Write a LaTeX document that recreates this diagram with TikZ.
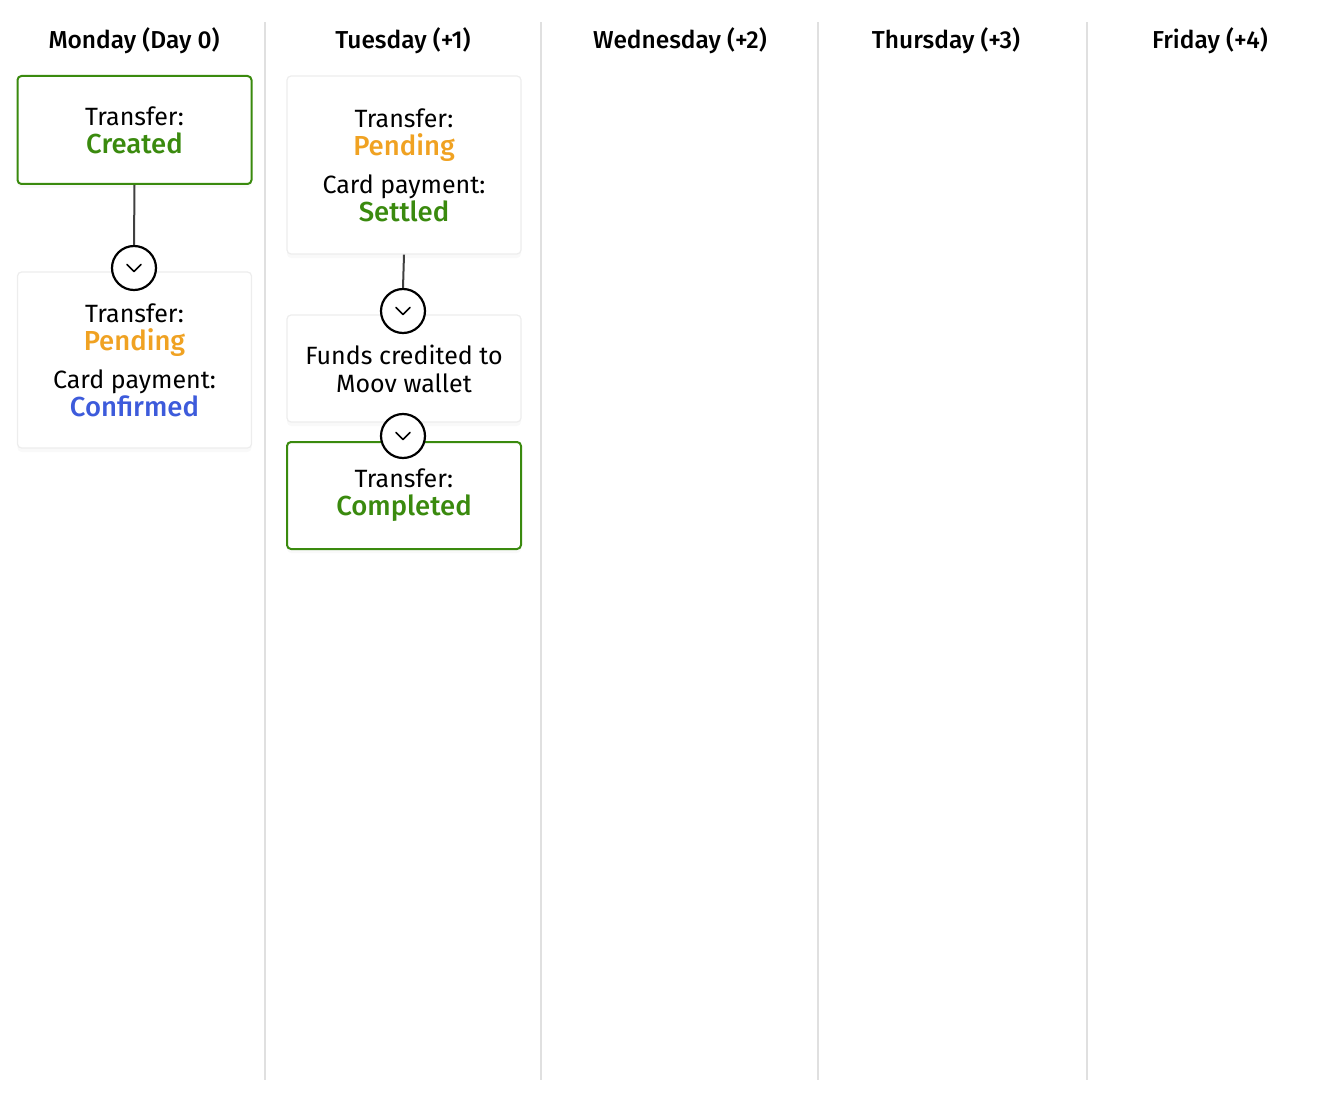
\documentclass[tikz,border=0pt]{standalone}
\usepackage{fontspec}
\setmainfont{Fira Sans}[BoldFont={Fira Sans Medium}]
\usepackage{tikz}
\usetikzlibrary{positioning,shadows}
\definecolor{okgreen}{HTML}{3A8A0E}
\definecolor{waitorange}{HTML}{F0A222}
\definecolor{confblue}{HTML}{3D5BDB}
\tikzset{sep/.style={black!12,line width=2pt},chevron/.style={line width=1.6pt,line cap=round,line join=round}}
\newcommand{\status}[2]{{\fontsize{27.5}{28}\selectfont\bfseries\color{#1}#2}}

\begin{document}
\begin{tikzpicture}[x=1pt, y=-1pt]

\tikzset{card/.style={draw=black!7,line width=1.2pt,rounded corners=4pt,fill=white,minimum width=234pt,align=center,inner sep=0pt,font=\fontsize{25}{28}\selectfont,drop shadow={shadow xshift=0pt,shadow yshift=-4pt,opacity=0.025,fill=black}},
greencard/.style={card,draw=okgreen,line width=2pt},
daytitle/.style={font=\fontsize{24.5}{28}\selectfont\bfseries},
toggle/.style={circle,draw=black,line width=2.2pt,fill=white,minimum size=44pt,inner sep=0pt,
  path picture={\draw[chevron] ([xshift=-7pt,yshift=3.5pt]path picture bounding box.center) -- ++(7pt,-7pt) -- ++(7pt,7pt);}},
link/.style={black!75,line width=2pt}}

\useasboundingbox (0,0) rectangle (1336,1102);

% Columns
\foreach \x in {265,541,818,1087} \draw[sep] (\x,22) -- (\x,1080);
\foreach \x/\t [count=\i] in {134/Monday (Day 0),403/Tuesday (+1),680/Wednesday (+2),946/Thursday (+3),1210/Friday (+4)}
  \node[daytitle] (day\i) at (\x,41) {\t};

% Monday
\node[greencard,minimum height=108pt] (created) at (134.5,130) {Transfer:\\\status{okgreen}{Created}};
\node[card,minimum height=176pt] (confirmed) at (134.5,360) {Transfer:\\\status{waitorange}{Pending}\\[10pt]Card payment:\\\status{confblue}{Confirmed}};
\node[toggle] (tog1) at (134,268) {};
\draw[link] (created.south) -- (tog1.north);

% Tuesday
\node[card,minimum height=178pt] (settled) at (404,165) {Transfer:\\\status{waitorange}{Pending}\\[10pt]Card payment:\\\status{okgreen}{Settled}};
\node[card,minimum height=107pt] (funds) at (404,368.5) {Funds credited to\\Moov wallet};
\node[greencard,minimum height=107pt] (completed) at (404,495.5) {Transfer:\\\status{okgreen}{Completed}};
\node[toggle] (tog2) at (403,311) {};
\node[toggle] (tog3) at (403,436) {};
\draw[link] (settled.south) -- (tog2.north);

\end{tikzpicture}
\end{document}
